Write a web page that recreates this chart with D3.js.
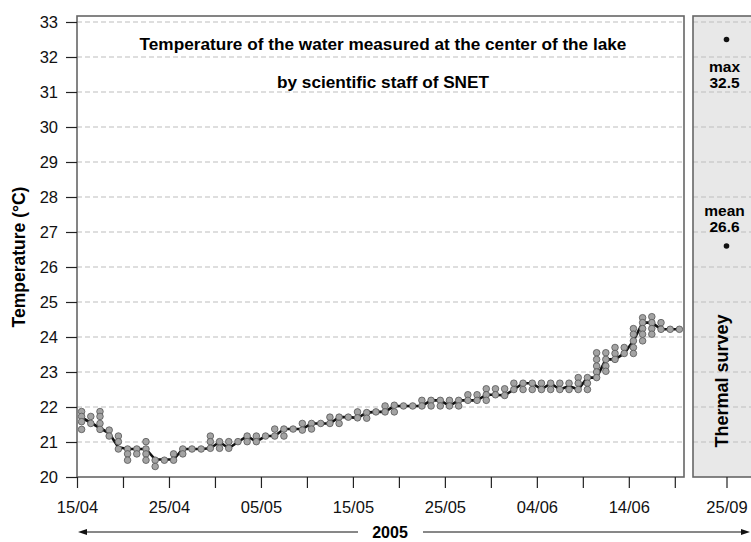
<!DOCTYPE html>
<html>
<head>
<meta charset="utf-8">
<script src="https://cdn.jsdelivr.net/npm/d3@7"></script>
<style>
  body { margin: 0; background: #fff; }
  svg text { font-family: "Liberation Sans", Arial, Helvetica, sans-serif; }
</style>
</head>
<body>
<script>
// daily survey days, 15/04 .. 20/06 2005
var dayDates = [
  "2005-04-15","2005-04-16","2005-04-17","2005-04-18","2005-04-19","2005-04-20","2005-04-21","2005-04-22",
  "2005-04-23","2005-04-24","2005-04-25","2005-04-26","2005-04-27","2005-04-28","2005-04-29","2005-04-30",
  "2005-05-01","2005-05-02","2005-05-03","2005-05-04","2005-05-05","2005-05-06","2005-05-07","2005-05-08",
  "2005-05-09","2005-05-10","2005-05-11","2005-05-12","2005-05-13","2005-05-14","2005-05-15","2005-05-16",
  "2005-05-17","2005-05-18","2005-05-19","2005-05-20","2005-05-21","2005-05-22","2005-05-23","2005-05-24",
  "2005-05-25","2005-05-26","2005-05-27","2005-05-28","2005-05-29","2005-05-30","2005-05-31","2005-06-01",
  "2005-06-02","2005-06-03","2005-06-04","2005-06-05","2005-06-06","2005-06-07","2005-06-08","2005-06-09",
  "2005-06-10","2005-06-11","2005-06-12","2005-06-13","2005-06-14","2005-06-15","2005-06-16","2005-06-17",
  "2005-06-18","2005-06-19"
];

// all readings of each day (°C)
var readings = [
  [21.87, 21.73, 21.58, 21.36], [21.73, 21.53], [21.87, 21.73, 21.53, 21.36], [21.34, 21.17],
  [21.17, 21.01, 20.8], [20.8, 20.66, 20.48], [20.8, 20.66], [21.01, 20.8, 20.66, 20.48],
  [20.48, 20.3], [20.48], [20.66, 20.48], [20.8, 20.66],
  [20.8], [20.8], [21.17, 21.01, 20.82], [21.01, 20.82],
  [21.01, 20.82], [21.01], [21.17, 21.01], [21.17, 21.01],
  [21.17], [21.37, 21.17], [21.37, 21.17], [21.37],
  [21.53, 21.34], [21.53, 21.37], [21.53], [21.71, 21.53],
  [21.71, 21.53], [21.71], [21.86, 21.69], [21.84, 21.68],
  [21.86], [22.03, 21.86], [22.05, 21.86], [22.03],
  [22.03], [22.19, 22.03], [22.19, 22.03], [22.19, 22.03],
  [22.19, 22.03], [22.19, 22.03], [22.35, 22.19], [22.35, 22.19],
  [22.52, 22.35, 22.19], [22.52, 22.35], [22.52, 22.33], [22.68, 22.5],
  [22.68, 22.5], [22.68, 22.5], [22.68, 22.5], [22.68, 22.5],
  [22.68, 22.5], [22.68, 22.5], [22.84, 22.68, 22.5], [22.84, 22.68, 22.5],
  [23.55, 23.36, 23.17, 23.0, 22.84], [23.55, 23.36, 23.17, 23.02], [23.7, 23.53, 23.36], [23.7, 23.53],
  [24.24, 24.08, 23.89, 23.7, 23.53], [24.55, 24.41, 24.24, 24.08, 23.89], [24.58, 24.41, 24.24, 24.08], [24.41, 24.22],
  [24.22], [24.22]
];

// the reading followed by the black line
var lineTemp = [
  21.7, 21.55, 21.4, 21.25, 20.85, 20.8, 20.8, 20.8, 20.5, 20.5, 20.5, 20.8, 20.8, 20.8,
  20.82, 21.0, 20.82, 21.0, 21.17, 21.01, 21.17, 21.17, 21.37, 21.37, 21.37, 21.53, 21.53, 21.53,
  21.71, 21.71, 21.69, 21.84, 21.86, 21.86, 22.03, 22.03, 22.03, 22.03, 22.19, 22.19, 22.03, 22.19,
  22.19, 22.19, 22.35, 22.35, 22.33, 22.5, 22.68, 22.68, 22.5, 22.68, 22.5, 22.6, 22.5, 22.84,
  22.84, 23.36, 23.36, 23.53, 23.89, 24.41, 24.41, 24.22, 24.22, 24.22
];

// thermal survey of 25/09
var surveyLabels = ["max", "mean"];
var surveyValues = [32.5, 26.6];
var surveyDate = "2005-09-25";

var yTicks = [20, 21, 22, 23, 24, 25, 26, 27, 28, 29, 30, 31, 32, 33];

var W = 751, H = 542;
var svg = d3.select("body").append("svg").attr("width", W).attr("height", H);

var parse = d3.timeParse("%Y-%m-%d");
var noon = function (s) { return d3.timeHour.offset(parse(s), 12); };

var boxL = 77, boxR = 684, boxT = 16, boxB = 477;
var panL = 693, panR = 760;

var x = d3.scaleTime()
  .domain([parse("2005-04-15"), parse("2005-06-20")])
  .range([boxL, boxR]);
var sd = parse(surveyDate);
var x2 = d3.scaleTime()
  .domain([d3.timeHour.offset(sd, -84), d3.timeHour.offset(sd, 84)])
  .range([panL, panR]);
var y = d3.scaleLinear().domain([20, 33]).range([477, 22]);

// survey panel background
svg.append("rect").attr("x", panL).attr("y", boxT)
  .attr("width", panR - panL).attr("height", boxB - boxT)
  .attr("fill", "#e8e8e8");

// dashed grid
var grid = svg.append("g");
yTicks.slice(1).forEach(function (t) {
  [[boxL, boxR], [panL, panR]].forEach(function (r) {
    grid.append("line")
      .attr("x1", r[0]).attr("x2", r[1])
      .attr("y1", y(t)).attr("y2", y(t))
      .attr("stroke", "#bdbdbd").attr("stroke-width", 1.2)
      .attr("stroke-dasharray", "5,3");
  });
});

// title
var title = ["Temperature of the water measured at the center of the lake", "by scientific staff of SNET"];
svg.selectAll("text.title").data(title).enter().append("text")
  .attr("class", "title")
  .attr("x", 383).attr("y", function (d, i) { return i == 0 ? 50 : 88; })
  .attr("text-anchor", "middle")
  .style("font-size", "17.2px").style("font-weight", "bold")
  .text(function (d) { return d; });

// line
var line = d3.line()
  .x(function (d, i) { return x(noon(dayDates[i])); })
  .y(function (d) { return y(d); });
svg.append("path").datum(lineTemp)
  .attr("d", line)
  .attr("fill", "none").attr("stroke", "#111").attr("stroke-width", 2.6)
  .attr("stroke-linejoin", "round");

// points
var pts = [];
readings.forEach(function (arr, i) {
  arr.forEach(function (v) { pts.push({ date: noon(dayDates[i]), v: v }); });
});
svg.append("g").selectAll("circle").data(pts).enter().append("circle")
  .attr("cx", function (d) { return x(d.date); })
  .attr("cy", function (d) { return y(d.v); })
  .attr("r", 3.3)
  .attr("fill", "#a3a3a3").attr("stroke", "#555").attr("stroke-width", 0.8);

// boxes
svg.append("rect").attr("x", boxL).attr("y", boxT)
  .attr("width", boxR - boxL).attr("height", boxB - boxT)
  .attr("fill", "none").attr("stroke", "#666").attr("stroke-width", 1.6);
svg.append("rect").attr("x", panL).attr("y", boxT)
  .attr("width", panR - panL).attr("height", boxB - boxT)
  .attr("fill", "none").attr("stroke", "#666").attr("stroke-width", 1.6);

// axes
var fmt = d3.timeFormat("%d/%m");
var xTicks = d3.timeDay.range(parse("2005-04-15"), parse("2005-06-20"), 5);
var xAxis = d3.axisBottom(x).tickValues(xTicks)
  .tickFormat(function (d, i) { return i % 2 == 0 ? fmt(d) : ""; })
  .tickSize(11).tickPadding(13);
var gx = svg.append("g").attr("transform", "translate(0," + boxB + ")").call(xAxis);
gx.select(".domain").remove();

var gx2 = svg.append("g").attr("transform", "translate(0," + boxB + ")")
  .call(d3.axisBottom(x2).tickValues([sd]).tickFormat(fmt).tickSize(11).tickPadding(13));
gx2.select(".domain").remove();

var gy = svg.append("g").attr("transform", "translate(" + boxL + ",0)")
  .call(d3.axisLeft(y).tickValues(yTicks).tickFormat(d3.format("d")).tickSize(11).tickPadding(8));
gy.select(".domain").remove();

svg.selectAll(".tick text").style("font-size", "16.5px").attr("fill", "#111")
  .style("font-family", "'Liberation Sans', Arial, sans-serif");
svg.selectAll(".tick line").attr("stroke", "#222").attr("stroke-width", 1.2);

// y label
svg.append("text")
  .attr("transform", "translate(25,257) rotate(-90)")
  .attr("text-anchor", "middle")
  .style("font-size", "17.5px").style("font-weight", "bold")
  .text("Temperature (\u00B0C)");

// survey panel marks
svg.append("g").selectAll("circle").data(surveyValues).enter().append("circle")
  .attr("cx", x2(sd)).attr("cy", function (d) { return y(d); })
  .attr("r", 2.8).attr("fill", "#111");

surveyLabels.forEach(function (lab, i) {
  var v = surveyValues[i];
  var off = i == 0 ? [32, 48] : [-30, -14];
  [lab, d3.format(".1f")(v)].forEach(function (t, j) {
    svg.append("text")
      .attr("x", x2(sd) - 2).attr("y", y(v) + off[j])
      .attr("text-anchor", "middle")
      .style("font-size", "15.5px").style("font-weight", "bold")
      .text(t);
  });
});

svg.append("text")
  .attr("transform", "translate(728,381) rotate(-90)")
  .attr("text-anchor", "middle")
  .style("font-size", "18px").style("font-weight", "bold")
  .text("Thermal survey");

// year arrow
var ay = 532;
svg.append("text").attr("x", 390).attr("y", ay + 6)
  .attr("text-anchor", "middle")
  .style("font-size", "16px").style("font-weight", "bold")
  .text("2005");
svg.append("line").attr("x1", 84).attr("x2", 358).attr("y1", ay).attr("y2", ay)
  .attr("stroke", "#111").attr("stroke-width", 1);
svg.append("line").attr("x1", 423).attr("x2", 744).attr("y1", ay).attr("y2", ay)
  .attr("stroke", "#111").attr("stroke-width", 1);
svg.append("path").attr("d", "M78," + ay + "L87," + (ay - 3) + "L87," + (ay + 3) + "Z").attr("fill", "#111");
svg.append("path").attr("d", "M750," + ay + "L741," + (ay - 3) + "L741," + (ay + 3) + "Z").attr("fill", "#111");
</script>
</body>
</html>
